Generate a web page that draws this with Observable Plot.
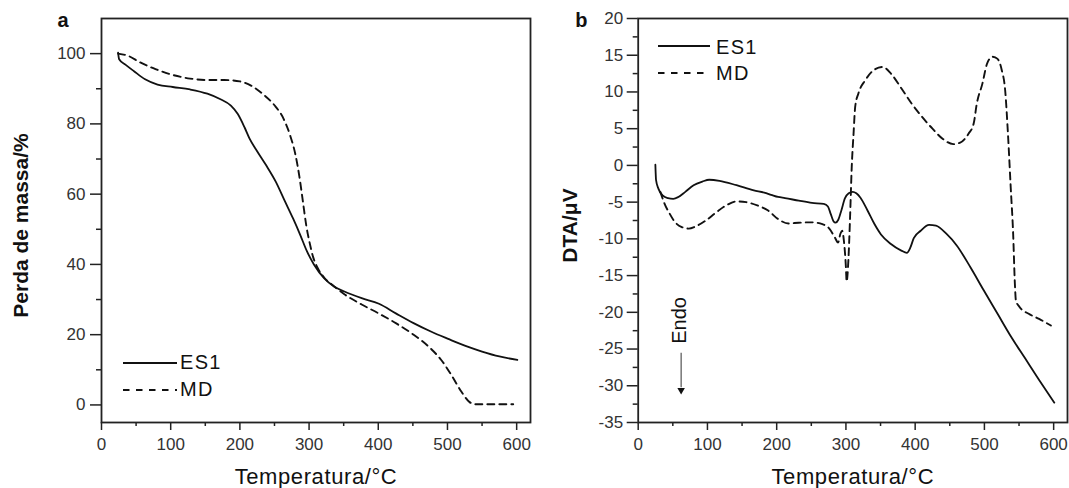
<!DOCTYPE html>
<html><head><meta charset="utf-8">
<script src="https://cdn.jsdelivr.net/npm/d3@7"></script>
<script src="https://cdn.jsdelivr.net/npm/@observablehq/plot@0.6"></script>
<style>
body{margin:0;background:#fff;}
#wrap{position:relative;width:1069px;height:488px;overflow:hidden;font-family:"Liberation Sans",Arial,sans-serif;background:#fff;}
.panel{position:absolute;top:0;}
.sw{position:absolute;}
.lt{position:absolute;font-size:20px;line-height:20px;letter-spacing:1.3px;color:#111;white-space:nowrap;}
</style></head><body><div id="wrap"></div>
<script>
// ---- Panel a (TGA): Temperatura (°C) vs Perda de massa (%) ----
const tgaES1_T = [24,25.5,35,47,63,81,103,128,153,172,187,197,207,214,224,238,252,265,277,287,297,307,322,336,351,376,401,426,451,476,501,526,550,575,601];
const tgaES1_V = [100.3,98.4,96.8,95,92.7,91.2,90.5,89.8,88.6,87,85.2,82.8,78.9,75.8,72.5,68.2,63.5,58,53,48.5,43.7,40,36,33.7,32.3,30.4,28.8,26,23.3,20.9,18.8,16.8,15.2,13.8,12.8];
const tgaMD_T = [24,38,56,78,100,128,153,177,200,217,235,250,263,273,280,286,291,296,301,306,313,322,336,351,376,401,426,451,476,491,506,520,532,540,560,595];
const tgaMD_V = [100,99.4,97.5,95.6,94.1,92.9,92.5,92.5,92.1,90.8,88.2,85.3,81.5,76.5,71.5,65,58,51,46,42,38.8,36.2,33.8,31.5,28.6,26,23.2,20,16,12.8,8.4,3.8,0.8,0.2,0.2,0.2];

// ---- Panel b (DTA): Temperatura (°C) vs DTA (µV) ----
const dtaES1_T = [24.8,25.8,29.3,35.7,43,50.6,58,68,80,92.7,102.6,117.5,142,167,182,192,202,212,232,251,268,274,278,282,285,289,293.5,298.5,304,310,315,321,331,341,350.6,365,380,388,393,398,408,420,430,445,460,480,499,519,539,559,579,601];
const dtaES1_V = [0.1,-2.0,-3.2,-4.1,-4.45,-4.55,-4.3,-3.6,-2.7,-2.2,-1.95,-2.1,-2.7,-3.4,-3.7,-4.0,-4.3,-4.45,-4.8,-5.1,-5.25,-5.6,-6.6,-7.6,-7.8,-7.4,-6.1,-4.5,-3.8,-3.6,-3.8,-4.4,-6.1,-7.95,-9.4,-10.7,-11.6,-11.9,-11.2,-9.9,-8.9,-8.1,-8.2,-9.3,-10.9,-13.9,-17.0,-20.2,-23.4,-26.3,-29.2,-32.3];
const dtaMD_T = [32,38,45.6,53,63,73,83,97.7,112.6,127,142,156,172,187,202,217,231.6,251,266,276,284,288.6,292,294.5,297,300,301,303.5,306,308.4,311,313.4,318,328,340.6,353,365,380,395,410,425,440,455,465,477,484.5,489,497,504,512,519,525,530,534,538,541.5,544,545.5,551,564,579,596];
const dtaMD_V = [-3.6,-5.2,-6.6,-7.7,-8.4,-8.6,-8.3,-7.5,-6.4,-5.45,-4.9,-5.0,-5.45,-6.1,-7.3,-7.9,-7.8,-7.75,-8.0,-8.6,-9.8,-10.5,-9.3,-8.9,-10.2,-13.9,-15.8,-13,-7,-0.2,4.3,8,9.8,11.6,13,13.4,12.5,10.5,8.4,6.6,5.0,3.6,2.9,3.1,4.3,5.7,8.4,11.1,13.9,14.8,14.5,13.0,10.2,4.3,-3,-9.3,-16.1,-18.4,-19.3,-20.2,-20.9,-21.8];

// ticks
const xMajor = [0,100,200,300,400,500,600];
const xMinor = [50,150,250,350,450,550];
const aYMajor = [0,20,40,60,80,100];
const aYMinor = [10,30,50,70,90];
const bYMajor = [-35,-30,-25,-20,-15,-10,-5,0,5,10,15,20];
const bYMinor = [-32.5,-27.5,-22.5,-17.5,-12.5,-7.5,-2.5,2.5,7.5,12.5,17.5];

// annotation
const endoLabel = [{T: 60, v: -21.1, text: "Endo"}];
const endoArrow = [{T: 62, v1: -25.5, v2: -30.2, tip: -30.6}];

const rows = (T, V) => T.map((t, i) => ({T: t, v: V[i]}));
const INK = "#111";
const AX = "#222";
const XLAB = "Temperatura/°C";

function panel({width, ml, mr, yDomain, yMajor, yMinor, es1, md, ylab, ylabDx, letter, letterDx, yTickSize, yTickPad, extra = []}) {
  return Plot.plot({
    width, height: 488,
    marginLeft: ml, marginRight: mr, marginTop: 18, marginBottom: 66,
    style: {fontFamily: '"Liberation Sans", Arial, sans-serif', fontSize: "17px", color: "#333", background: "#fff"},
    x: {domain: [0, 620]},
    y: {domain: yDomain},
    marks: [
      Plot.axisX(xMajor, {tickSize: 8, tickPadding: 7, stroke: AX, strokeWidth: 1.5, fill: "#333", fontSize: 17, label: null, tickFormat: d => String(d)}),
      Plot.axisX(xMinor, {tickSize: 4, stroke: AX, strokeWidth: 1.5, label: null, tickFormat: () => ""}),
      Plot.axisY(yMajor, {tickSize: yTickSize, tickPadding: yTickPad, stroke: AX, strokeWidth: 1.5, fill: "#333", fontSize: 17, label: null, tickFormat: d => String(d)}),
      Plot.axisY(yMinor, {tickSize: 5, stroke: AX, strokeWidth: 1.5, label: null, tickFormat: () => ""}),
      Plot.frame({stroke: AX, strokeWidth: 1.8}),
      Plot.line(es1, {x: "T", y: "v", stroke: INK, strokeWidth: 1.8, curve: "monotone-x"}),
      Plot.line(md, {x: "T", y: "v", stroke: INK, strokeWidth: 1.9, strokeDasharray: "7,5", curve: "monotone-x"}),
      ...extra,
      Plot.text([XLAB], {frameAnchor: "bottom", textAnchor: "middle", lineAnchor: "bottom", dy: 61.3, fontSize: 22, fill: "#111"}),
      Plot.text([ylab], {frameAnchor: "left", textAnchor: "middle", lineAnchor: "bottom", rotate: -90, dx: ylabDx, dy: 5, fontSize: 21, fontWeight: "bold", fill: "#111"}),
      Plot.text([letter], {frameAnchor: "top-left", textAnchor: "start", lineAnchor: "bottom", dx: letterDx, dy: 8.6, fontSize: 20, fontWeight: "bold", fill: "#111"})
    ]
  });
}

const wrap = document.getElementById("wrap");

const pa = panel({
  width: 535, ml: 101, mr: 5,
  yDomain: [-5, 110], yMajor: aYMajor, yMinor: aYMinor,
  es1: rows(tgaES1_T, tgaES1_V), md: rows(tgaMD_T, tgaMD_V),
  ylab: "Perda de massa/%", ylabDx: -74, letter: "a", letterDx: -44,
  yTickSize: 11, yTickPad: 5
});
pa.classList.add("panel"); pa.style.left = "0px";
wrap.appendChild(pa);

const pb = panel({
  width: 534, ml: 102.7, mr: 2,
  yDomain: [-35, 20], yMajor: bYMajor, yMinor: bYMinor,
  es1: rows(dtaES1_T, dtaES1_V), md: rows(dtaMD_T, dtaMD_V),
  ylab: "DTA/\u03BCV", ylabDx: -61.3, letter: "b", letterDx: -63,
  yTickSize: 11, yTickPad: 4,
  extra: [
    Plot.text(endoLabel, {x: "T", y: "v", text: "text", rotate: -90, fontSize: 20, fill: "#111"}),
    Plot.link(endoArrow, {x1: "T", y1: "v1", x2: "T", y2: "v2", stroke: "#444", strokeWidth: 1.1}),
    Plot.dot(endoArrow, {x: "T", y: "tip", symbol: "triangle2", rotate: 180, r: 3.6, fill: "#111", stroke: "none"})
  ]
});
pb.classList.add("panel"); pb.style.left = "535px";
wrap.appendChild(pb);

// widen the x-axis titles a little (letter spacing)
for (const svg of [pa, pb]) {
  svg.querySelectorAll("text").forEach(t => { if (t.textContent === XLAB) t.setAttribute("letter-spacing", "0.6"); });
}

// legends (HTML overlay)
function legendItem(left, cy, textLeft, baseline, label, dashed, w) {
  const s = document.createElementNS("http://www.w3.org/2000/svg", "svg");
  s.setAttribute("width", w); s.setAttribute("height", 4);
  s.setAttribute("class", "sw");
  s.style.left = left + "px"; s.style.top = (cy - 2) + "px";
  const l = document.createElementNS("http://www.w3.org/2000/svg", "line");
  l.setAttribute("x1", 0); l.setAttribute("x2", w); l.setAttribute("y1", 2); l.setAttribute("y2", 2);
  l.setAttribute("stroke", INK); l.setAttribute("stroke-width", 1.9);
  if (dashed) l.setAttribute("stroke-dasharray", "6.5,6.5");
  s.appendChild(l);
  wrap.appendChild(s);
  const t = document.createElement("div");
  t.className = "lt"; t.textContent = label;
  t.style.left = textLeft + "px"; t.style.top = (baseline - 16.9) + "px";
  wrap.appendChild(t);
}
legendItem(123, 363, 180, 369, "ES1", false, 54);
legendItem(123, 390, 180, 396, "MD", true, 54);
legendItem(658, 46, 716, 54, "ES1", false, 52);
legendItem(658, 72.7, 716, 80, "MD", true, 52);
</script></body></html>
